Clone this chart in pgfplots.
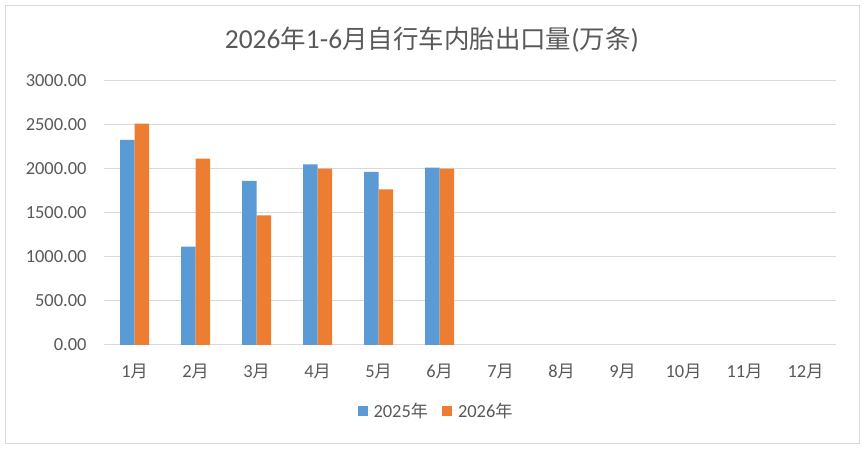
\documentclass[border=0pt]{standalone}
\usepackage{pgfplots}
\pgfplotsset{compat=1.18}
\usepackage{fontspec}
\setmainfont{Carlito}
\newfontfamily\cjk[Scale=0.93]{Noto Sans CJK SC}
\newcommand\ny{{\cjk 年}}
\newcommand\yu{{\cjk 月}}
\definecolor{cblue}{HTML}{5B9BD5}
\definecolor{corange}{HTML}{ED7D31}
\definecolor{gridc}{HTML}{D9D9D9}
\definecolor{txt}{HTML}{595959}
\begin{document}
\begin{tikzpicture}[x=1bp,y=1bp]
\fill[white] (0,0) rectangle (866,450);
\draw[gridc, line width=1bp] (5.5,6.5) rectangle (859.5,444);
\node[txt, font=\fontsize{27.5}{30}\selectfont] at (432,410) {2026\ny 1-6\yu{\cjk 自行车内胎出口量}({\cjk 万条})};
\begin{axis}[
  at={(104bp,105bp)}, anchor=south west,
  scale only axis, width=732bp, height=264bp,
  xmin=0.5, xmax=12.5, ymin=0, ymax=3000,
  ybar=0pt, bar width=14.5bp,
  xtick={1,...,12},
  xticklabels={1\yu,2\yu,3\yu,4\yu,5\yu,6\yu,7\yu,8\yu,9\yu,10\yu,11\yu,12\yu},
  ytick={0,500,...,3000},
  ymajorgrids, grid style={gridc, line width=1bp},
  axis line style={draw=none},
  major tick length=0pt,
  tick label style={txt, font=\fontsize{18.5}{20}\selectfont},
  /pgf/number format/fixed, /pgf/number format/fixed zerofill,
  /pgf/number format/precision=2, /pgf/number format/1000 sep={},
  /pgf/number format/assume math mode=true,
  yticklabel style={xshift=-14bp},
  xticklabel style={yshift=-15bp},
  legend style={at={(0.4536,-0.25)}, anchor=center, draw=none, fill=none,
    legend columns=2, font=\fontsize{18.5}{20}\selectfont, text=txt,
    /tikz/every even column/.append style={column sep=12bp}},
  legend image code/.code={\fill[#1] (0bp,-5bp) rectangle (10bp,5bp); \path (0bp,0bp) -- (14bp,0bp);},
]
\addplot[fill=cblue, draw=none] coordinates {(1,2330) (2,1117) (3,1864) (4,2053) (5,1966) (6,2015)};
\addplot[fill=corange, draw=none] coordinates {(1,2515) (2,2117) (3,1473) (4,2004) (5,1769) (6,2004)};
\legend{2025\ny, 2026\ny}
\end{axis}
\end{tikzpicture}
\end{document}
